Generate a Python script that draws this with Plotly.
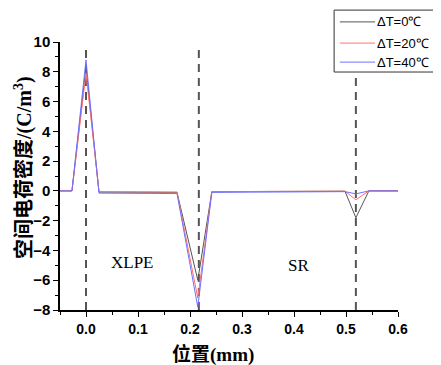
import plotly.graph_objects as go

x_pos = [-0.05, -0.027, 0.0, 0.025, 0.175, 0.215, 0.242, 0.498, 0.519, 0.544, 0.6]
rho_0 = [0, 0, 8.3, -0.08, -0.1, -6.0, -0.05, -0.02, -1.8, 0, 0]
rho_20 = [0, 0, 7.9, -0.05, -0.08, -7.2, -0.05, -0.02, -0.6, 0, 0]
rho_40 = [0, 0, 8.8, -0.15, -0.18, -7.8, -0.1, -0.05, -0.2, 0, 0]
series_names = ["ΔT=0℃", "ΔT=20℃", "ΔT=40℃"]
series_colors = ["#555555", "#ff7070", "#7070ff"]
interfaces = [0.0, 0.217, 0.519]
regions = [("XLPE", 0.09, -4.8), ("SR", 0.408, -5.0)]

fig = go.Figure()
for name, ys, c in zip(series_names, [rho_0, rho_20, rho_40], series_colors):
    fig.add_trace(go.Scatter(x=x_pos, y=ys, mode="lines", name=name,
                             line=dict(color=c, width=1), showlegend=False))

for xi in interfaces:
    fig.add_shape(type="line", x0=xi, x1=xi, y0=-8, y1=9.6, xref="x", yref="y",
                  line=dict(color="#555555", width=2, dash="8px,6px"), layer="below")

for txt, xa, ya in regions:
    fig.add_annotation(x=xa, y=ya, text=txt, showarrow=False,
                       font=dict(family="Liberation Serif", size=17, color="black"))

# legend box drawn manually (top right, partly outside the frame like the original)
fig.add_shape(type="rect", xref="paper", yref="paper", x0=0.811, x1=1.15, y0=0.888, y1=1.119,
              line=dict(color="#333", width=1), fillcolor="white", layer="above")
leg_y = [1.075, 0.996, 0.925]
for name, c, ly in zip(series_names, series_colors, leg_y):
    fig.add_shape(type="line", xref="paper", yref="paper", x0=0.828, x1=0.932, y0=ly, y1=ly,
                  line=dict(color=c, width=1), layer="above")
    fig.add_annotation(xref="paper", yref="paper", x=0.933, y=ly, text=name, showarrow=False,
                       xanchor="left", yanchor="middle",
                       font=dict(family="Liberation Sans", size=13, color="black"))

# axis titles
title_font = dict(family="Liberation Serif, Noto Sans CJK SC", size=20, color="black", weight="bold")
fig.add_annotation(xref="paper", yref="paper", x=-0.1065, y=0.53, textangle=-90,
                   text="<b>空间电荷密度/(C/m<sup>3</sup>)</b>", showarrow=False,
                   xanchor="center", yanchor="middle", font=title_font)
fig.add_annotation(xref="paper", yref="paper", x=0.453, y=-0.165,
                   text="<b>位置(mm)</b>", showarrow=False,
                   xanchor="center", yanchor="middle", font=dict(title_font, size=19))

# page has an 8px body margin, so the figure is made 8px smaller and margins shifted
fig.update_layout(
    width=433, height=357,
    margin=dict(l=52, r=43, t=34, b=55, autoexpand=False),
    paper_bgcolor="white", plot_bgcolor="white",
    showlegend=False,
    xaxis=dict(range=[-0.05, 0.6], tickvals=[0, 0.1, 0.2, 0.3, 0.4, 0.5, 0.6],
               ticktext=["0.0", "0.1", "0.2", "0.3", "0.4", "0.5", "0.6"],
               ticks="outside", ticklen=5, tickwidth=1, tickcolor="black",
               minor=dict(tickvals=[-0.05, 0.05, 0.15, 0.25, 0.35, 0.45, 0.55], ticks="outside", ticklen=3, tickcolor="black"),
               showline=True, linecolor="black", linewidth=1.5, showgrid=False, zeroline=False,
               tickfont=dict(family="Liberation Sans", size=14, color="black", weight="bold")),
    yaxis=dict(range=[-8, 10], tickvals=list(range(-8, 11, 2)),
               ticks="outside", ticklen=5, tickwidth=1, tickcolor="black",
               minor=dict(tickvals=list(range(-7, 10, 2)), ticks="outside", ticklen=3, tickcolor="black"),
               showline=True, linecolor="black", linewidth=1.5, showgrid=False, zeroline=False,
               tickfont=dict(family="Liberation Sans", size=15, color="black", weight="bold")),
)
fig.write_html("out.html")
